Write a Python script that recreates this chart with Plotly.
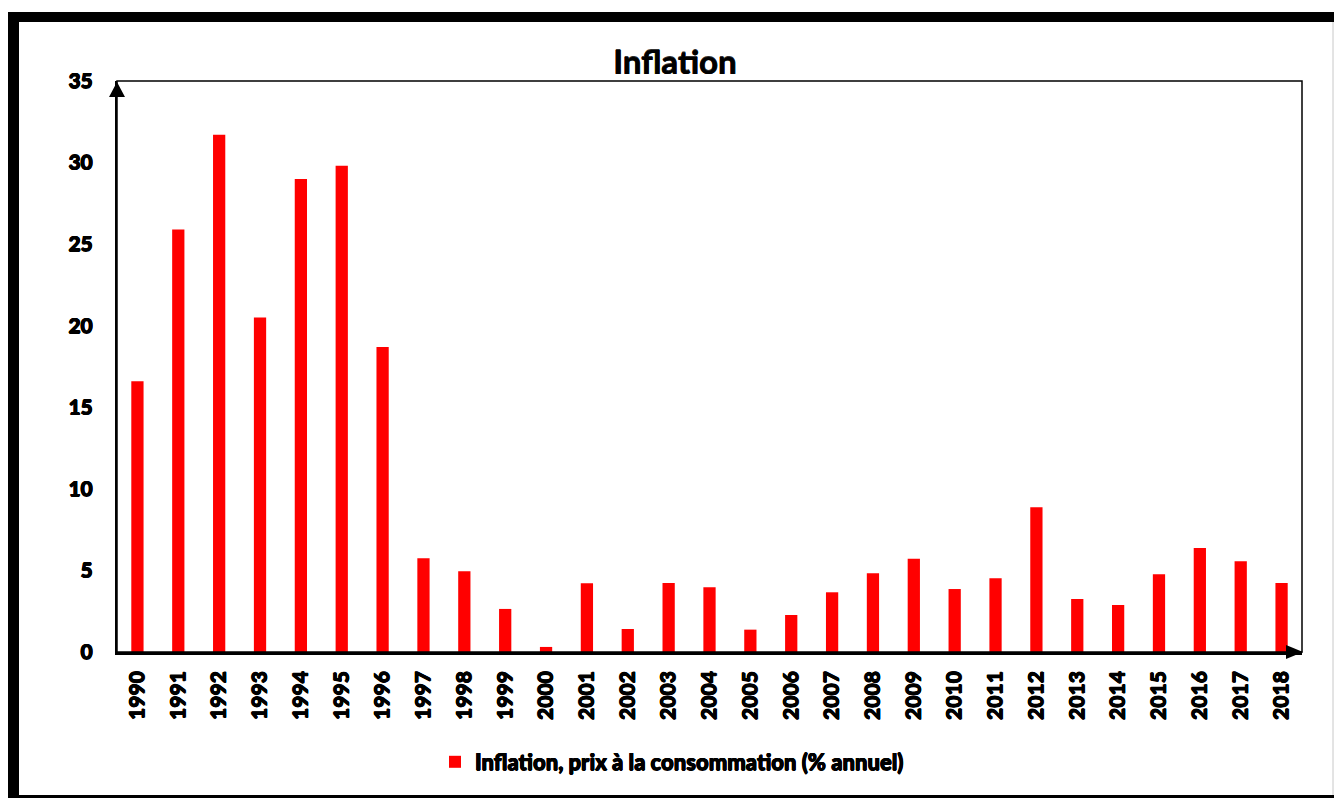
import plotly.graph_objects as go

years = [str(y) for y in range(1990, 2019)]
inflation = [16.6, 25.9, 31.7, 20.5, 29.0, 29.8, 18.7, 5.74, 4.95, 2.64, 0.31,
             4.21, 1.41, 4.23, 3.97, 1.37, 2.27, 3.66, 4.82, 5.72, 3.86, 4.52,
             8.87, 3.25, 2.88, 4.76, 6.38, 5.56, 4.23]
series_name = "Inflation, prix à la consommation (% annuel)"
title_text = "Inflation"
y_ticks = [0, 5, 10, 15, 20, 25, 30, 35]

W, H = 1334, 798
L, R, T, B = 117, 1302, 81, 652
pw, ph = R - L, B - T


def px(x):
    return (x - L) / pw


def py(y):
    return (B - y) / ph


FONT = "Lato"
HEAVY = "0.5px 0 0 black, -0.5px 0 0 black, 0 0.5px 0 black, 0 -0.5px 0 black"
LIGHT = "0.4px 0 0 #333, -0.4px 0 0 #333, 0 0.4px 0 #333, 0 -0.4px 0 #333"

fig = go.Figure()
fig.add_trace(go.Bar(
    x=years, y=inflation, name=series_name,
    marker=dict(color="#ff0000", line=dict(width=0)),
    showlegend=True,
))

shapes = [
    dict(type="rect", xref="paper", yref="paper", x0=0, x1=1, y0=0, y1=1,
         line=dict(color="black", width=1.5), layer="above"),
    dict(type="path", xref="paper", yref="paper",
         path=f"M {px(117)} {py(82)} L {px(109)} {py(97)} L {px(125)} {py(97)} Z",
         fillcolor="black", line=dict(width=0), layer="above"),
    dict(type="path", xref="paper", yref="paper",
         path=f"M {px(1303)} {py(652)} L {px(1286)} {py(645)} L {px(1286)} {py(659)} Z",
         fillcolor="black", line=dict(width=0), layer="above"),
    dict(type="line", xref="paper", yref="paper", x0=px(13.5), x1=px(13.5), y0=py(12), y1=py(800),
         line=dict(color="black", width=11)),
    dict(type="line", xref="paper", yref="paper", x0=px(8), x1=px(1340), y0=py(17), y1=py(17),
         line=dict(color="black", width=10)),
    dict(type="line", xref="paper", yref="paper", x0=px(8), x1=px(1340), y0=py(798), y1=py(798),
         line=dict(color="black", width=6)),
    dict(type="line", xref="paper", yref="paper", x0=px(1333), x1=px(1333), y0=py(22), y1=py(795),
         line=dict(color="#c8c8c8", width=1)),
]

fig.update_layout(
    width=W, height=H,
    margin=dict(l=L, r=W - R, t=T, b=H - B),
    paper_bgcolor="white", plot_bgcolor="white",
    bargap=0.7,
    title=dict(text=title_text, x=675 / W, xanchor="center", y=1 - 62 / H, yanchor="middle",
               font=dict(family=FONT, size=33, color="black", weight="bold", shadow=LIGHT)),
    font=dict(family=FONT, color="black"),
    xaxis=dict(
        type="category", range=[-0.5, 28.5],
        showline=True, linecolor="black", linewidth=2.5,
        showgrid=False, ticks="", tickangle=-90,
        tickfont=dict(family=FONT, size=21, color="black", weight=900, shadow=HEAVY),
        ticklabelstandoff=8,
    ),
    yaxis=dict(
        range=[0, 35], tickvals=y_ticks,
        showline=True, linecolor="black", linewidth=2,
        showgrid=False, ticks="", zeroline=False,
        tickfont=dict(family=FONT, size=21, color="black", weight=900, shadow=HEAVY),
        ticklabelstandoff=18,
    ),
    legend=dict(
        orientation="h", x=px(672), xanchor="center", y=py(762), yanchor="middle",
        font=dict(family=FONT, size=22, color="black", weight=900, shadow=HEAVY),
        itemwidth=30, itemsizing="constant",
    ),
    shapes=shapes,
)

fig.write_html("out.html", config={"displayModeBar": False},
               post_script="document.body.style.margin='0';document.body.style.padding='0';")
